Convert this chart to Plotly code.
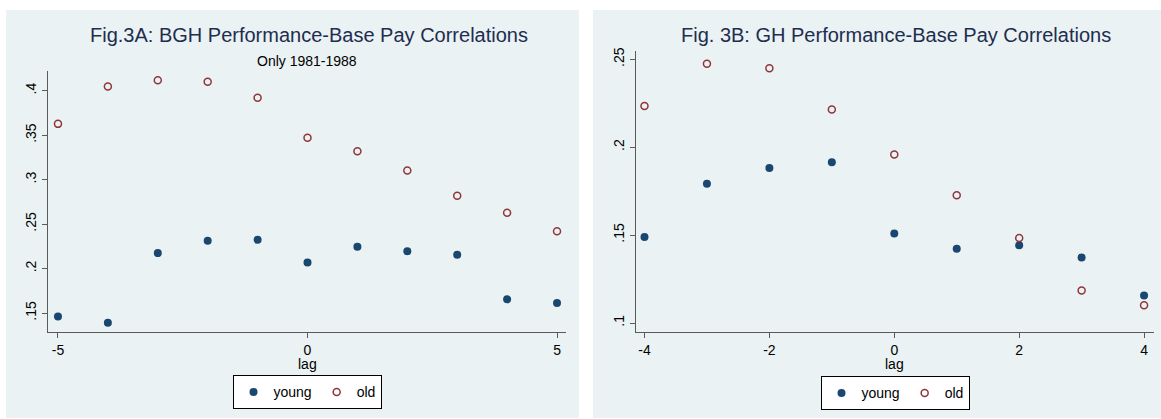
import plotly.graph_objects as go

# ---- data ----
lag_a = [-5, -4, -3, -2, -1, 0, 1, 2, 3, 4, 5]
young_a = [0.1462, 0.1392, 0.2174, 0.2313, 0.2324, 0.2067, 0.2246, 0.2196, 0.2156, 0.1654, 0.1612]
old_a = [0.3627, 0.4048, 0.4118, 0.4100, 0.3922, 0.3471, 0.3319, 0.3102, 0.2820, 0.2627, 0.2419]

lag_b = [-4, -3, -2, -1, 0, 1, 2, 3, 4]
young_b = [0.1489, 0.1792, 0.1881, 0.1915, 0.1509, 0.1422, 0.1442, 0.1372, 0.1156]
old_b = [0.2234, 0.2474, 0.2449, 0.2214, 0.1959, 0.1727, 0.1483, 0.1185, 0.1101]

ytick_a = [0.15, 0.2, 0.25, 0.3, 0.35, 0.4]
ytick_a_lab = [".15", ".2", ".25", ".3", ".35", ".4"]
ytick_b = [0.1, 0.15, 0.2, 0.25]
ytick_b_lab = [".1", ".15", ".2", ".25"]
xtick_a = [-5, 0, 5]
xtick_b = [-4, -2, 0, 2, 4]

title_a = "Fig.3A: BGH Performance-Base Pay Correlations"
subtitle_a = "Only 1981-1988"
title_b = "Fig. 3B: GH Performance-Base Pay Correlations"

# ---- style ----
W, H = 1161, 419
FONT = "Liberation Sans, Arial, Helvetica, sans-serif"
NAVY = "#1A476F"
MAROON = "#90353B"
PANEL = "#EAF2F3"
TITLE_C = "#1E2D50"
AXIS_C = "#5A5A5A"


def px(x):
    return x / W


def py(y):
    return 1 - y / H


fig = go.Figure()

fig.add_trace(go.Scatter(x=lag_a, y=young_a, mode="markers", name="young",
                         marker=dict(color=NAVY, size=8, symbol="circle"),
                         xaxis="x", yaxis="y", legend="legend"))
fig.add_trace(go.Scatter(x=lag_a, y=old_a, mode="markers", name="old",
                         marker=dict(color=MAROON, size=7, symbol="circle-open",
                                     line=dict(width=1.5, color=MAROON)),
                         xaxis="x", yaxis="y", legend="legend"))
fig.add_trace(go.Scatter(x=lag_b, y=young_b, mode="markers", name="young",
                         marker=dict(color=NAVY, size=8, symbol="circle"),
                         xaxis="x2", yaxis="y2", legend="legend2"))
fig.add_trace(go.Scatter(x=lag_b, y=old_b, mode="markers", name="old",
                         marker=dict(color=MAROON, size=7, symbol="circle-open",
                                     line=dict(width=1.5, color=MAROON)),
                         xaxis="x2", yaxis="y2", legend="legend2"))

axis_common = dict(showline=True, linecolor=AXIS_C, linewidth=1.3, ticks="outside",
                   ticklen=5, tickcolor=AXIS_C, tickwidth=1.2, zeroline=False,
                   tickfont=dict(family=FONT, size=14, color="black"))

fig.update_layout(
    width=W, height=H,
    margin=dict(l=0, r=0, t=0, b=0),
    paper_bgcolor="white",
    plot_bgcolor="white",
    font=dict(family=FONT, size=14, color="black"),
    xaxis=dict(domain=[px(48), px(566)], range=[-5.2, 5.18], tickvals=xtick_a,
               ticktext=[str(v) for v in xtick_a], showgrid=False, anchor="y",
               **axis_common),
    yaxis=dict(domain=[py(331), py(68)], range=[0.1291, 0.4227], tickvals=ytick_a,
               ticktext=ytick_a_lab, tickangle=-90, showgrid=True, gridcolor=PANEL,
               gridwidth=1.3, anchor="x", **axis_common),
    xaxis2=dict(domain=[px(636), px(1154)], range=[-4.136, 4.159], tickvals=xtick_b,
                ticktext=[str(v) for v in xtick_b], showgrid=False, anchor="y2",
                **axis_common),
    yaxis2=dict(domain=[py(331), py(48)], range=[0.0951, 0.2549], tickvals=ytick_b,
                ticktext=ytick_b_lab, tickangle=-90, showgrid=True, gridcolor=PANEL,
                gridwidth=1.3, anchor="x2", **axis_common),
    legend=dict(orientation="h", x=px(307), xanchor="center", y=py(375), yanchor="top",
                bgcolor="white", bordercolor="black", borderwidth=1,
                font=dict(family=FONT, size=14, color="black"), itemwidth=30),
    legend2=dict(orientation="h", x=px(895), xanchor="center", y=py(376), yanchor="top",
                 bgcolor="white", bordercolor="black", borderwidth=1,
                 font=dict(family=FONT, size=14, color="black"), itemwidth=30),
    shapes=[
        dict(type="rect", xref="paper", yref="paper", x0=px(6), x1=px(579),
             y0=py(418), y1=py(7), fillcolor=PANEL, line=dict(width=0), layer="below"),
        dict(type="rect", xref="paper", yref="paper", x0=px(593), x1=px(1161),
             y0=py(418), y1=py(7), fillcolor=PANEL, line=dict(width=0), layer="below"),
    ],
    annotations=[
        dict(text=title_a, xref="paper", yref="paper", x=px(309), y=py(32),
             xanchor="center", yanchor="middle", showarrow=False,
             font=dict(family=FONT, size=20, color=TITLE_C)),
        dict(text=subtitle_a, xref="paper", yref="paper", x=px(307), y=py(58),
             xanchor="center", yanchor="middle", showarrow=False,
             font=dict(family=FONT, size=14, color="black")),
        dict(text=title_b, xref="paper", yref="paper", x=px(896), y=py(32),
             xanchor="center", yanchor="middle", showarrow=False,
             font=dict(family=FONT, size=20, color=TITLE_C)),
        dict(text="lag", xref="paper", yref="paper", x=px(307), y=py(364),
             xanchor="center", yanchor="middle", showarrow=False,
             font=dict(family=FONT, size=14, color="black")),
        dict(text="lag", xref="paper", yref="paper", x=px(895), y=py(364),
             xanchor="center", yanchor="middle", showarrow=False,
             font=dict(family=FONT, size=14, color="black")),
    ],
)

fig.write_html("out.html")
